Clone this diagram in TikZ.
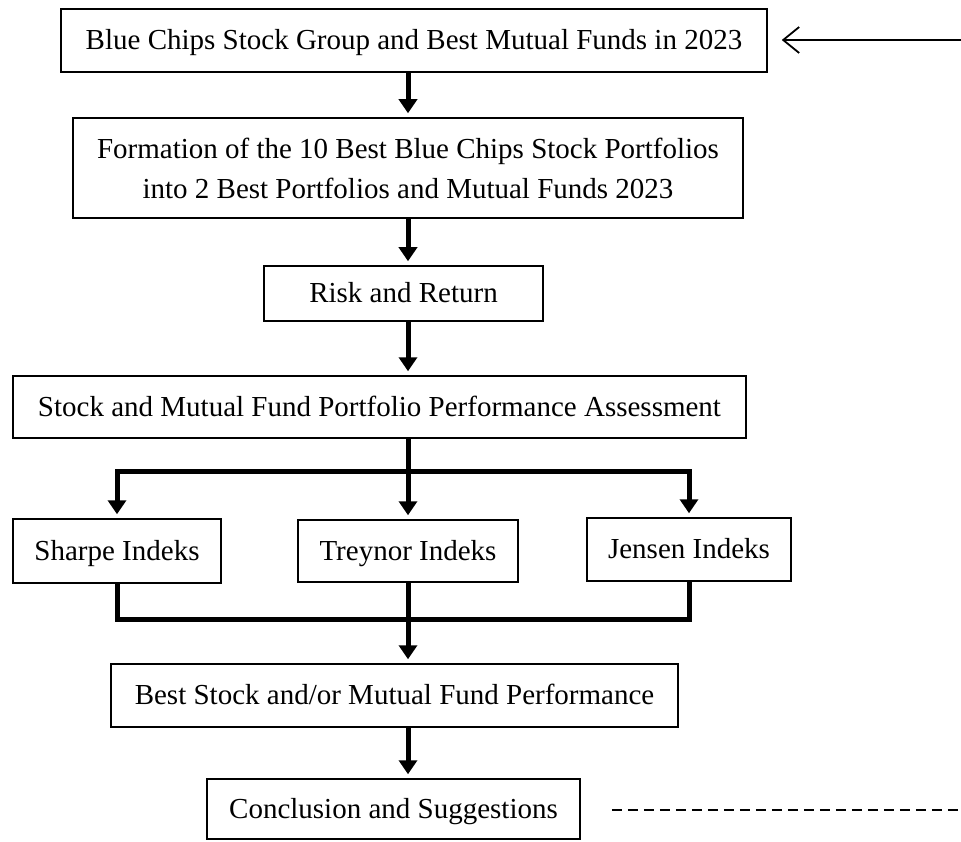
\documentclass[tikz,border=0pt]{standalone}
\usepackage{fontspec}
\setmainfont{Liberation Serif}
\usetikzlibrary{arrows.meta,positioning,calc}

\begin{document}
\begin{tikzpicture}[x=1pt,y=-1pt,
  box/.style={draw,line width=1.5pt,font=\fontsize{29}{40}\selectfont,inner xsep=0pt,inner ysep=0pt},
  line1/.style={text height=22pt,text depth=4pt},
  flow/.style={line width=5pt,line join=miter,-{Triangle[length=14pt,width=18pt]},shorten >=4pt},
  link/.style={line width=5pt,line join=miter}]
  \useasboundingbox (0,0) rectangle (961,842);
  % boxes
  \node[box,line1,minimum width=706pt,minimum height=63pt] (group) at (414,40.5) {Blue Chips Stock Group and Best Mutual Funds in 2023};
  \node[box,minimum width=670pt,minimum height=100pt,align=center] (formation) at (408,168) {Formation of the 10 Best Blue Chips Stock Portfolios\\into 2 Best Portfolios and Mutual Funds 2023};
  \node[box,line1,minimum width=279pt,minimum height=55pt] (risk) at (403.5,293.5) {Risk and Return};
  \node[box,line1,minimum width=733pt,minimum height=62pt] (assess) at (379.5,407) {Stock and Mutual Fund Portfolio Performance Assessment};
  \node[box,line1,minimum width=208pt,minimum height=64pt] (sharpe) at (117,551) {Sharpe Indeks};
  \node[box,line1,minimum width=220pt,minimum height=62pt] (treynor) at (408,551) {Treynor Indeks};
  \node[box,line1,minimum width=204pt,minimum height=63pt] (jensen) at (689,549.5) {Jensen Indeks};
  \node[box,line1,minimum width=567pt,minimum height=63pt] (best) at (394.5,695.5) {Best Stock and/or Mutual Fund Performance};
  \node[box,line1,minimum width=373pt,minimum height=60pt] (advice) at (393.5,809) {Conclusion and Suggestions};
  \coordinate (spine) at (408,0);
  \coordinate (split) at (408,471);
  \coordinate (merge) at (408,619);
  \coordinate (src) at (961,40);
  \coordinate (sink) at (961,810);
  % connectors
  \draw[line width=1.8pt,-{Straight Barb[length=16pt,width=26pt]},shorten >=14pt] (src) -- (group.east |- src);
  \draw[flow] (group.south -| spine) -- (formation.north -| spine);
  \draw[flow] (formation.south -| spine) -- (risk.north -| spine);
  \draw[flow] (risk.south -| spine) -- (assess.north -| spine);
  \draw[flow] (assess.south -| spine) -- (treynor.north);
  \draw[flow] (split) -| (sharpe.north);
  \draw[flow] (split) -| (jensen.north);
  \draw[link] (sharpe.south) |- (merge);
  \draw[link] (jensen.south) |- (merge);
  \draw[flow] (treynor.south) -- (best.north -| treynor);
  \draw[flow] (best.south -| spine) -- (advice.north -| spine);
  \draw[line width=1.4pt,dash pattern=on 10pt off 6pt,shorten <=31pt] (advice.east |- sink) -- (sink);
\end{tikzpicture}
\end{document}
